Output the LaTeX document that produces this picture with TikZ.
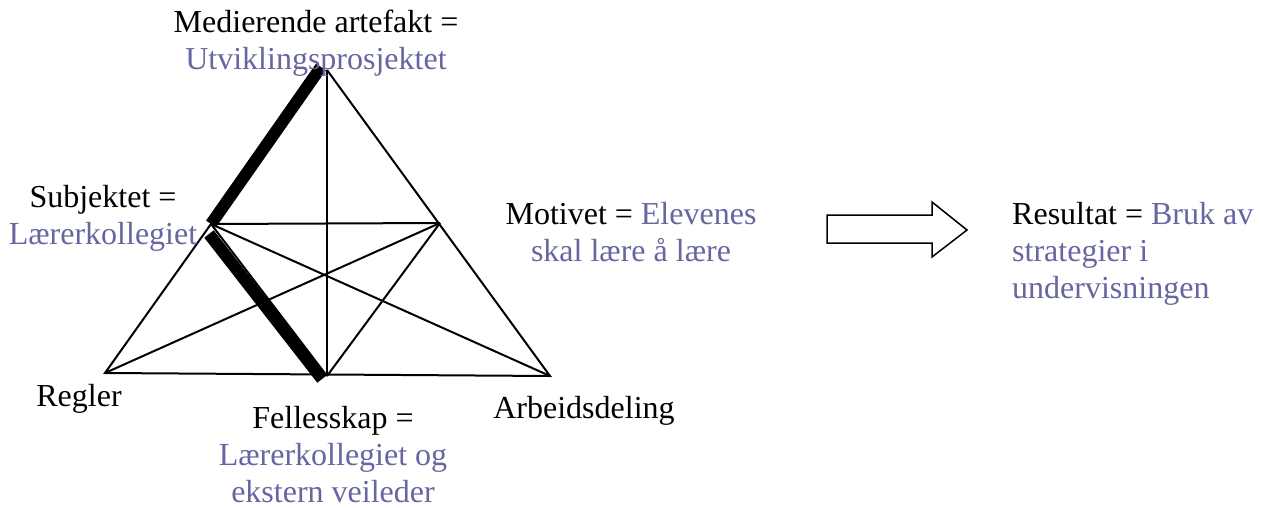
\documentclass[tikz,border=0pt]{standalone}
\usepackage{fontspec}
\setmainfont{Liberation Serif}
\definecolor{lbl}{RGB}{102,102,160}
\begin{document}
\begin{tikzpicture}[x=1pt,y=-1pt,
  lab/.style={anchor=base,inner sep=0pt,font=\fontsize{32}{37}\selectfont},
  labw/.style={anchor=base west,inner sep=0pt,font=\fontsize{32}{37}\selectfont},
  thin line/.style={line width=2pt},
  thick line/.style={line width=12pt}]
\useasboundingbox (0,0) rectangle (1261,508);
% vertices
\coordinate (T) at (327,70);
\coordinate (Tk) at (321,67);
\coordinate (L) at (211,224);
\coordinate (Lk) at (209,234);
\coordinate (R) at (440,223);
\coordinate (BL) at (105,373);
\coordinate (BM) at (327,376);
\coordinate (BMk) at (322,379);
\coordinate (BR) at (550,376);
% thin lines
\draw[thin line] (T) -- (BR) -- (BL) -- (L) -- (R);
\draw[thin line] (T) -- (BM);
\draw[thin line] (L) -- (BR);
\draw[thin line] (R) -- (BL);
\draw[thin line] (R) -- (BM);
\draw[thin line] (L) -- (BM);
% thick lines
\draw[thick line] (L) -- (Tk);
\draw[thick line] (Lk) -- (BMk);
% big arrow
\draw[line width=1.5pt,fill=white] (827,215) -- (932,215) -- (932,202) -- (967,230) -- (932,257) -- (932,243) -- (827,243) -- cycle;
% labels
\node[lab] (art) at (316,33) {\begin{tabular}[t]{@{}c@{}}Medierende artefakt =\\\textcolor{lbl}{Utviklingsprosjektet}\end{tabular}};
\node[lab] (subj) at (103,207) {\begin{tabular}[t]{@{}c@{}}Subjektet =\\\textcolor{lbl}{Lærerkollegiet}\end{tabular}};
\node[lab] (mot) at (631,224) {\begin{tabular}[t]{@{}c@{}}Motivet = \textcolor{lbl}{Elevenes}\\\textcolor{lbl}{skal lære å lære}\end{tabular}};
\node[labw] (res) at (1012,224) {\begin{tabular}[t]{@{}l@{}}Resultat = \textcolor{lbl}{Bruk av}\\\textcolor{lbl}{strategier i}\\\textcolor{lbl}{undervisningen}\end{tabular}};
\node[lab] (reg) at (79,406) {Regler};
\node[lab] (fell) at (333,428) {\begin{tabular}[t]{@{}c@{}}Fellesskap =\\\textcolor{lbl}{Lærerkollegiet og}\\\textcolor{lbl}{ekstern veileder}\end{tabular}};
\node[lab] (arb) at (584,418) {Arbeidsdeling};
\end{tikzpicture}
\end{document}
